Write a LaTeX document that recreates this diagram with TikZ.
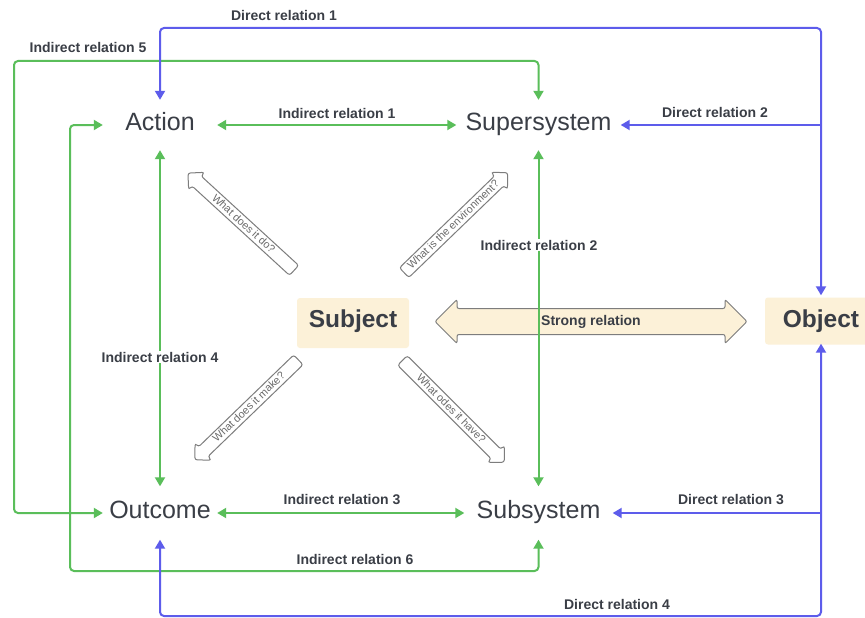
\documentclass[tikz,border=0pt]{standalone}
\usepackage{fontspec}
\setmainfont{Liberation Sans}
\usetikzlibrary{shapes.arrows,arrows.meta}
\definecolor{gline}{RGB}{90,190,90}
\definecolor{bline}{RGB}{93,92,235}
\definecolor{txt}{RGB}{58,62,70}
\definecolor{beige}{RGB}{252,241,216}
\definecolor{hollow}{RGB}{125,125,125}
\begin{document}
\begin{tikzpicture}[x=1pt,y=-1pt,
  mainlbl/.style={font=\fontsize{25}{30}\selectfont, text=txt, inner sep=0pt, text height=18pt, text depth=7pt},
  boxlbl/.style={font=\fontsize{24.5}{30}\selectfont\bfseries, text=txt, fill=beige, rounded corners=3pt, inner sep=0pt, text height=18pt, text depth=6pt},
  lbl/.style={font=\fontsize{14}{16}\selectfont\bfseries, text=txt, inner sep=1pt},
  tip/.tip={Triangle[length=9pt,width=10pt]},
  gcon/.style={draw=gline, line width=2pt, rounded corners=4pt, tip-tip},
  bcon/.style={draw=bline, line width=2pt, rounded corners=4pt, tip-tip},
  bone/.style={draw=bline, line width=2pt, -tip},
  qarrow/.style={single arrow, draw=hollow, fill=white, line width=1pt, minimum height=144pt,
    single arrow head extend=5pt, inner xsep=2pt, inner ysep=1.5pt, text height=8pt, text depth=1.5pt,
    font=\fontsize{10.8}{12}\selectfont, text=hollow!85!black, rounded corners=2.5pt}
]
\useasboundingbox[fill=white] (0,0) rectangle (865,618);

% main nodes
\node[mainlbl, minimum width=114pt, minimum height=50pt] (Action) at (160,125) {Action};
\node[mainlbl, minimum width=164pt, minimum height=50pt] (Supersystem) at (538.5,125) {Supersystem};
\node[mainlbl, minimum width=114pt, minimum height=53pt] (Outcome) at (160,513) {Outcome};
\node[mainlbl, minimum width=148pt, minimum height=53pt] (Subsystem) at (538.5,513) {Subsystem};
\node[boxlbl, minimum width=112pt, minimum height=50pt, text depth=10pt] (Subject) at (353,323) {Subject};
\node[boxlbl, minimum width=112pt, minimum height=47pt] (Object) at (821,321) {Object};

% strong relation
\node[double arrow, draw=hollow, fill=beige, line width=1pt, minimum height=312pt,
  double arrow head extend=9pt, inner xsep=0pt, inner ysep=6pt, text height=10pt, text depth=3pt,
  rounded corners=2pt, font=\fontsize{14}{16}\selectfont\bfseries, text=txt] (strong) at (591,321.5) {Strong relation};

% question arrows
\node[qarrow, shape border rotate=180, rotate=-42.5] (q1) at (243.5,224) {What does it do?};
\node[qarrow, rotate=44] (q2) at (453.5,225) {What is the environment?};
\node[qarrow, shape border rotate=180, rotate=44] (q3) at (249,407.5) {What does it make?};
\node[qarrow, rotate=-45] (q4) at (451,409) {What odes it have?};

% helper coordinates
\coordinate (top1) at (0,28);
\coordinate (top5) at (0,61);
\coordinate (left5) at (14,0);
\coordinate (left6) at (70,0);
\coordinate (bot6) at (0,571);
\coordinate (bot4) at (0,616);
\coordinate (d2) at (Object.north |- Supersystem.east);
\coordinate (d3) at (Object.south |- Subsystem.east);

% green connectors
\draw[gcon] (Action.east) -- (Supersystem.west);
\draw[gcon] (Outcome.east) -- (Subsystem.west);
\draw[gcon] (Action.south) -- (Outcome.north);
\draw[gcon] (Supersystem.south) -- (Subsystem.north);
\draw[gcon] (Outcome.west) -- (Outcome.west -| left5) -- (left5 |- top5) -- (Supersystem.north |- top5) -- (Supersystem.north);
\draw[gcon] (Action.west) -- (Action.west -| left6) -- (left6 |- bot6) -- (Subsystem.south |- bot6) -- (Subsystem.south);

% blue connectors
\draw[bcon, shorten <=2pt] (Object.north) -- (Object.north |- top1) -- (Action.north |- top1) -- (Action.north);
\draw[bcon, shorten <=-1pt] (Object.south) -- (Object.south |- bot4) -- (Outcome.south |- bot4) -- (Outcome.south);
\draw[bone] (d2) -- (Supersystem.east);
\draw[bone] (d3) -- (Subsystem.east);

% labels
\node[lbl] (l1) at (284,15) {Direct relation 1};
\node[lbl] (l2) at (88,47) {Indirect relation 5};
\node[lbl] (l3) at (337,113) {Indirect relation 1};
\node[lbl] (l4) at (715,112) {Direct relation 2};
\node[lbl, fill=white] (l5) at (539,245) {Indirect relation 2};
\node[lbl, fill=white] (l6) at (160,357) {Indirect relation 4};
\node[lbl] (l7) at (342,500) {Indirect relation 3};
\node[lbl] (l8) at (731,500) {Direct relation 3};
\node[lbl] (l9) at (355,559) {Indirect relation 6};
\node[lbl] (l10) at (617,604) {Direct relation 4};
\end{tikzpicture}
\end{document}
